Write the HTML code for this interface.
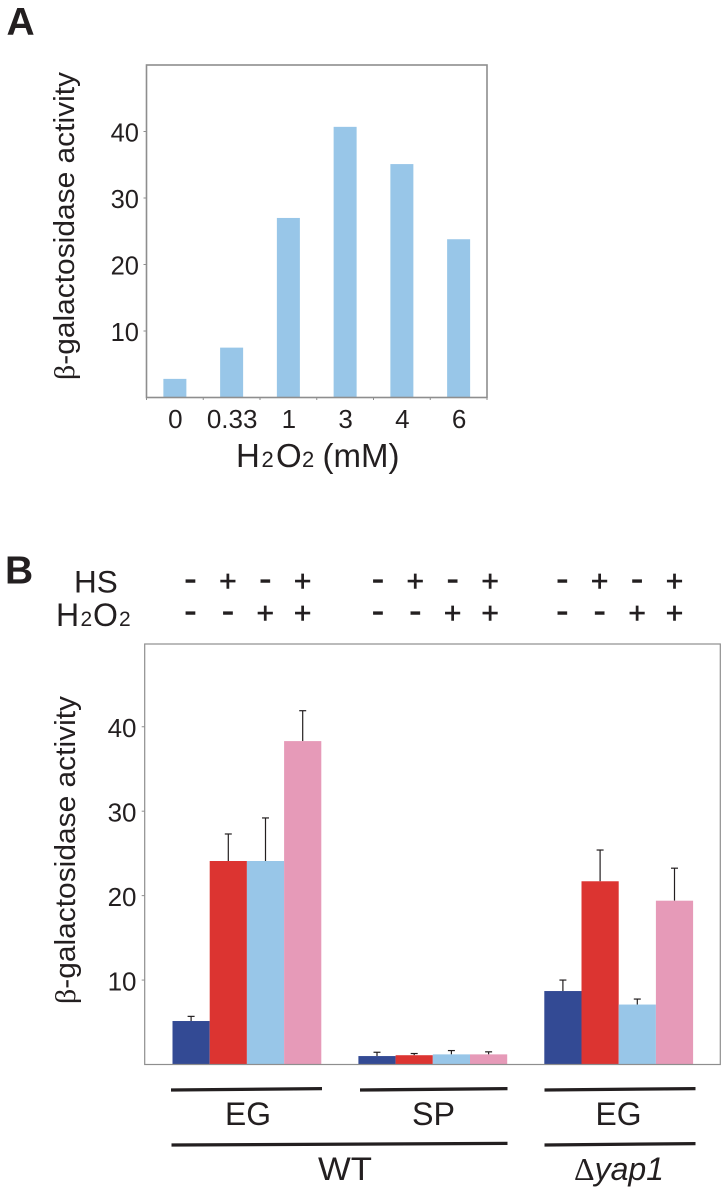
<!DOCTYPE html>
<html lang="en">
<head>
<meta charset="utf-8">
<title>β-galactosidase activity charts</title>
<style>
html,body{margin:0;padding:0;background:#fff;}
svg{display:block;}
text{font-family:"Liberation Sans",sans-serif;fill:#231f20;}
</style>
</head>
<body>
<svg id="fig" xmlns="http://www.w3.org/2000/svg" width="728" height="1194" viewBox="0 0 728 1194">
  <rect x="0" y="0" width="728" height="1194" fill="#ffffff"/>
  <text x="6.5" y="35" font-size="39" font-weight="bold">A</text>
  <text x="5" y="583.5" font-size="39" font-weight="bold">B</text>

  <g id="chartA"></g>
  <text transform="translate(74,380) rotate(-90)" font-size="29" textLength="308" lengthAdjust="spacingAndGlyphs"><tspan font-family="Liberation Serif">β</tspan>-galactosidase activity</text>
  <text y="467" font-size="33"><tspan x="236">H</tspan><tspan x="261.5" font-size="22">2</tspan><tspan x="276">O</tspan><tspan x="302" font-size="22">2</tspan><tspan x="322.5">(mM)</tspan></text>

  <text x="74" y="592.5" font-size="31.5">HS</text>
  <text y="626" font-size="32"><tspan x="56">H</tspan><tspan x="80.5" font-size="21">2</tspan><tspan x="93">O</tspan><tspan x="119" font-size="21">2</tspan></text>
  <g id="treatments"></g>

  <g id="chartB"></g>
  <text transform="translate(75,1004) rotate(-90)" font-size="29" textLength="308" lengthAdjust="spacingAndGlyphs"><tspan font-family="Liberation Serif">β</tspan>-galactosidase activity</text>

  <line x1="171" y1="1090" x2="322" y2="1088.6" stroke="#231f20" stroke-width="3.3"/>
  <line x1="360" y1="1090" x2="507.5" y2="1088.6" stroke="#231f20" stroke-width="3.3"/>
  <line x1="544.5" y1="1090" x2="695.5" y2="1088.6" stroke="#231f20" stroke-width="3.3"/>
  <line x1="171.5" y1="1145" x2="507.5" y2="1143.4" stroke="#231f20" stroke-width="3.3"/>
  <line x1="544.5" y1="1145" x2="695.5" y2="1143.6" stroke="#231f20" stroke-width="3.3"/>
  <text x="225" y="1125" font-size="32" textLength="46" lengthAdjust="spacingAndGlyphs">EG</text>
  <text x="412" y="1125" font-size="32" textLength="43" lengthAdjust="spacingAndGlyphs">SP</text>
  <text x="595.5" y="1125" font-size="32" textLength="46" lengthAdjust="spacingAndGlyphs">EG</text>
  <text x="318" y="1180" font-size="32" textLength="54" lengthAdjust="spacingAndGlyphs">WT</text>
  <text x="574" y="1180" font-size="32"><tspan font-family="Liberation Serif">Δ</tspan><tspan font-style="italic">yap1</tspan></text>
</svg>
<script>
// Panel A data
var doseLabels = ['0', '0.33', '1', '3', '4', '6'];
var doseValues = [2.8, 7.5, 27, 40.7, 35.1, 23.8];
var yTicks = [10, 20, 30, 40];

// Panel B data
var groupNames = ['wt-eg', 'wt-sp', 'yap1-eg'];
var conditionNames = ['control', 'hs', 'h2o2', 'hs-h2o2'];
var conditionColors = ['#334a94', '#dc3431', '#98c6e8', '#e69ab8'];
var activityWtEg = [5.15, 24.1, 24.1, 38.3];
var activityWtSp = [1.0, 1.1, 1.2, 1.2];
var activityYap1Eg = [8.7, 21.7, 7.1, 19.4];
var errorTopWtEg = [5.7, 27.3, 29.2, 41.9];
var errorTopWtSp = [1.45, 1.3, 1.65, 1.5];
var errorTopYap1Eg = [10, 25.4, 7.75, 23.25];
var hsSigns = ['-', '+', '-', '+'];
var h2o2Signs = ['-', '-', '+', '+'];

var NS = 'http://www.w3.org/2000/svg';
var AXIS = '#8e8e8e';

function make(parent, tag) {
  var el = document.createElementNS(NS, tag);
  parent.appendChild(el);
  return el;
}
function set(el, k, v) { el.setAttribute(k, v); }

function drawLine(parent, x1, y1, x2, y2, color, width) {
  var l = make(parent, 'line');
  set(l, 'x1', x1); set(l, 'y1', y1); set(l, 'x2', x2); set(l, 'y2', y2);
  set(l, 'stroke', color); set(l, 'stroke-width', width);
  return l;
}
function drawRect(parent, x, y, w, h, color) {
  var r = make(parent, 'rect');
  set(r, 'x', x); set(r, 'y', y); set(r, 'width', w); set(r, 'height', h);
  set(r, 'fill', color);
  return r;
}
function drawText(parent, x, y, size, anchor, str) {
  var t = make(parent, 'text');
  set(t, 'x', x); set(t, 'y', y); set(t, 'font-size', size); set(t, 'text-anchor', anchor);
  t.textContent = str;
  return t;
}

/* ---------- Panel A ---------- */
var gA = document.getElementById('chartA');
var aLeft = 146.5, aRight = 487, aTop = 65, aBottom = 397.5;
function yA(v) { return aBottom - (aBottom - aTop) * v / 50; }
function xA(i) { return aLeft + (aRight - aLeft) * (i + 0.5) / doseLabels.length; }
var aBarW = 23;

doseValues.forEach(function (v, i) {
  var bar = drawRect(gA, xA(i) - aBarW / 2, yA(v), aBarW, aBottom - yA(v), '#98c6e8');
  
  
  var lab = drawText(gA, xA(i) + 0.5, 428, 26, 'middle', doseLabels[i]);
  
  
});
for (var ia = 0; ia <= doseLabels.length; ia++) {
  var tx = aLeft + (aRight - aLeft) * ia / doseLabels.length;
  var xt = drawLine(gA, tx, aBottom, tx, aBottom + 2.5, AXIS, 1);
  
  
}
yTicks.forEach(function (v) {
  var t = drawLine(gA, aLeft - 3, yA(v), aLeft, yA(v), AXIS, 1);
  
  
  var lab = drawText(gA, 139, yA(v) + 10, 25.5, 'end', String(v));
  
  
});
var frameA = make(gA, 'rect');
set(frameA, 'x', aLeft); set(frameA, 'y', aTop);
set(frameA, 'width', aRight - aLeft); set(frameA, 'height', aBottom - aTop);
set(frameA, 'fill', 'none'); set(frameA, 'stroke', AXIS); set(frameA, 'stroke-width', 1.6);



/* ---------- Panel B ---------- */
var gB = document.getElementById('chartB');
var bLeft = 144.7, bRight = 720.3, bTop = 644, bBottom = 1064.5;
function yB(v) { return bBottom - (bBottom - bTop) * v / 49.8; }
var bBarW = 37.2;
var groupStep = 185.9;
function xB(g, c) { return 172.5 + groupStep * g + bBarW * c; }

var groupActivity = [activityWtEg, activityWtSp, activityYap1Eg];
var groupErrorTop = [errorTopWtEg, errorTopWtSp, errorTopYap1Eg];

groupNames.forEach(function (name, g) {
  conditionNames.forEach(function (cond, c) {
    var v = groupActivity[g][c];
    var e = groupErrorTop[g][c];
    var cx = xB(g, c) + bBarW / 2;
    var stem = drawLine(gB, cx, yB(e), cx, yB(v), '#231f20', 1.2);
    
    
    var cap = drawLine(gB, cx - 3.5, yB(e), cx + 3.5, yB(e), '#231f20', 1.2);
    
    
    var bar = drawRect(gB, xB(g, c), yB(v), bBarW, bBottom - yB(v), conditionColors[c]);
    
    
  });
});
yTicks.forEach(function (v) {
  var t = drawLine(gB, bLeft - 3, yB(v), bLeft, yB(v), AXIS, 1);
  
  
  var lab = drawText(gB, 136.5, yB(v) + 10.5, 26, 'end', String(v));
  
  
});
var frameB = make(gB, 'rect');
set(frameB, 'x', bLeft); set(frameB, 'y', bTop);
set(frameB, 'width', bRight - bLeft); set(frameB, 'height', bBottom - bTop);
set(frameB, 'fill', 'none'); set(frameB, 'stroke', AXIS); set(frameB, 'stroke-width', 1.2);



/* ---------- Treatment +/- matrix ---------- */
var gT = document.getElementById('treatments');
function signX(g, c) { return 190.5 + groupStep * g + 37.4 * c + (g === 1 ? 1.5 : 0); }
function drawSign(sign, x, cy) {
  var isPlus = sign === '+';
  var size = isPlus ? 30 : 38;
  var lift = isPlus ? 0.343 : 0.27;
  var t = drawText(gT, x, cy + size * lift, size, 'middle', sign);
  set(t, 'stroke', '#231f20');
  set(t, 'stroke-width', isPlus ? '0.6' : '0.4');
  return t;
}
groupNames.forEach(function (name, g) {
  conditionNames.forEach(function (cond, c) {
    var s1 = drawSign(hsSigns[c], signX(g, c), 580.7);
    
    
    var s2 = drawSign(h2o2Signs[c], signX(g, c), 612.7);
    
    
  });
});
</script>
</body>
</html>
